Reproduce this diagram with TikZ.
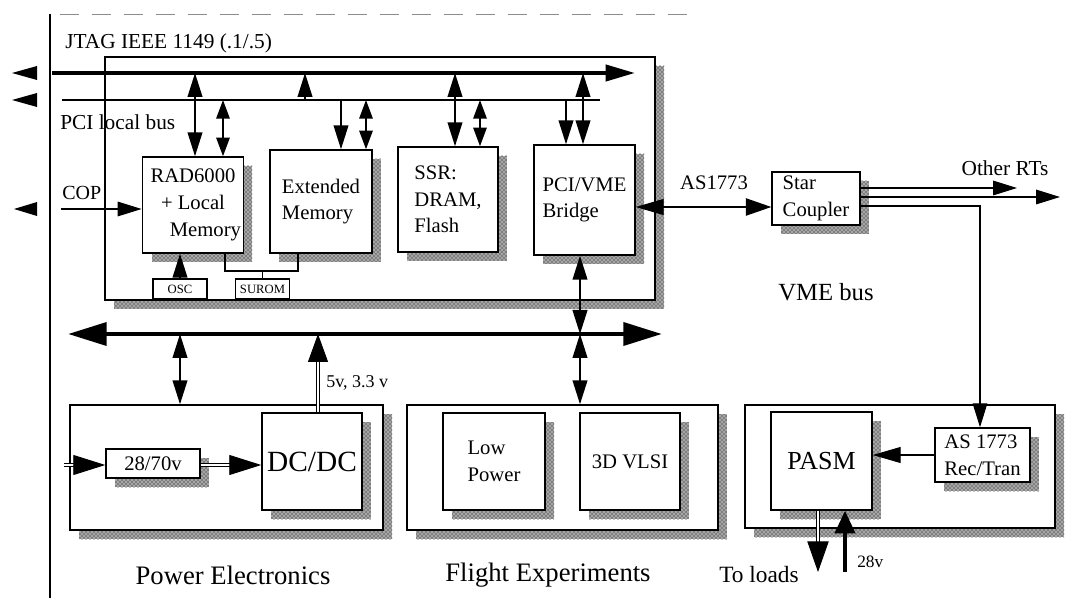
\documentclass[tikz,border=0pt]{standalone}
\usepackage{fontspec}
\setmainfont{Liberation Serif}
\usetikzlibrary{arrows.meta,patterns,calc}
\newcommand\mkbox[7]{%
  \fill[black!35] ({#2+9},{#3+9}) rectangle ({#4+9},{#5+9});
  \fill[shad] ({#2+9},{#3+9}) rectangle ({#4+9},{#5+9});
  \node[box, minimum width={(#4-#2)*0.75pt}, minimum height={(#5-#3)*0.75pt}, #6] (#1) at ({(#2+#4)/2},{(#3+#5)/2}) {#7};%
}
\begin{document}
\begin{tikzpicture}[x=0.75pt,y=-0.75pt,
  box/.style={draw, line width=1.1pt, fill=white, inner sep=2pt, align=center, font=\fontsize{15.5}{20}\selectfont},
  smallbox/.style={draw, line width=0.8pt, fill=white, inner sep=0pt, font=\fontsize{9.5}{10}\selectfont, minimum height=15pt},
  shad/.style={pattern=crosshatch dots, pattern color=black},
  lbl/.style={inner sep=0pt, font=\fontsize{#1}{#1}\selectfont},
  vtip/.style={-{Triangle[length=18pt,width=11pt]}},
  vboth/.style={{Triangle[length=18pt,width=11pt]}-{Triangle[length=18pt,width=11pt]}},
  sboth/.style={{Triangle[length=14pt,width=10pt]}-{Triangle[length=14pt,width=10pt]}},
  varrow/.style={line width=1.5pt},
  thinline/.style={line width=0.8pt},
  dbl/.style={draw=black, double=white, double distance=1.2pt, line width=0.7pt},
]
\useasboundingbox (0,0) rectangle (1067,598);

% frame lines
\draw[line width=2pt] (50,14) -- (50,598);
\draw[black!45, line width=0.5pt, dash pattern=on 14pt off 10pt] (60,14) -- (700,14);

% ---------- CPU board ----------
\mkbox{cpu}{105}{57}{655}{300}{}{}
\node[lbl=16, anchor=west] (jtaglbl) at (65,43) {JTAG IEEE 1149 (.1/.5)};
\node[lbl=16, anchor=west] (pcilbl) at (60,122) {PCI local bus};
\node[lbl=15, anchor=west] (coplbl) at (62,193) {COP};

\mkbox{rad}{143}{157}{243}{253}{}{RAD6000\\+ Local\\\hspace*{1.2em}Memory}
\mkbox{ext}{270}{150}{372}{253}{align=left}{Extended\\Memory}
\mkbox{ssr}{398}{147}{498}{252}{align=left}{SSR:\\DRAM,\\Flash}
\mkbox{bridge}{534}{145}{635}{255}{align=left}{PCI/VME\\Bridge}

\node[smallbox, minimum width=40.5pt] (osc) at (180,289) {OSC};
\node[smallbox, minimum width=41pt] (surom) at (262.5,289) {SUROM};

% buses
\coordinate (jtagL) at (52,73);
\coordinate (jtagR) at (635,73);
\coordinate (pciL) at (62,100);
\coordinate (pciR) at (600,100);
\draw[line width=3pt, -{Triangle[length=22pt,width=12pt]}] (jtagL) -- (jtagR);
\draw[line width=1.8pt] (pciL) -- (pciR);
% arrow tips leaving the sheet on the left
\fill (37,66) -- (12,73) -- (37,80) -- cycle;
\fill (37,93) -- (12,100) -- (37,107) -- cycle;
\fill (37,202) -- (14,209) -- (37,216) -- cycle;
\coordinate (cop) at (61,209);
\draw[thinline, -{Triangle[length=18pt,width=11pt]}] (cop) -- (rad.west |- cop);

% bus taps
\coordinate (j1) at (195,73);  \draw[varrow, vboth] (j1) -- (j1 |- rad.north);
\coordinate (p1) at (223,100); \draw[varrow, sboth] (p1) -- (p1 |- rad.north);
\coordinate (p2) at (305,100); \coordinate (j2) at (305,73); \draw[varrow, vtip] (p2) -- (j2);
\coordinate (p3) at (341,100); \draw[varrow, vtip] (p3) -- (p3 |- ext.north);
\coordinate (p4) at (366,100); \draw[varrow, sboth] (p4) -- (p4 |- ext.north);
\coordinate (j3) at (455,73);  \draw[varrow, vboth] (j3) -- (j3 |- ssr.north);
\coordinate (p5) at (480,100); \draw[varrow, sboth] (p5) -- (p5 |- ssr.north);
\coordinate (p6) at (566,100); \draw[varrow, vtip] (p6) -- (p6 |- bridge.north);
\coordinate (j4) at (583,73);  \draw[varrow, vboth] (j4) -- (j4 |- bridge.north);

% OSC / SUROM
\draw[varrow, vtip] (osc.north) -- (osc.north |- rad.south);
\coordinate (sa) at (225,271); \coordinate (sb) at (298,271);
\draw[thinline] (sa |- rad.south) -- (sa) -- (sb) -- (sb |- ext.south);
\draw[thinline] (surom.north |- sa) -- (surom.north);

% ---------- VME bus ----------
\coordinate (vmeL) at (68,334);
\coordinate (vmeR) at (662,334);
\draw[line width=3.5pt, {Triangle[length=29pt,width=17pt]}-{Triangle[length=29pt,width=17pt]}] (vmeL) -- (vmeR);
\node[lbl=18.5] (vmelbl) at (826,292) {VME bus};

% ---------- Power electronics ----------
\mkbox{pwr}{70}{405}{383}{530}{}{}
\mkbox{conv}{106}{449}{200}{478}{}{28/70v}
\mkbox{dcdc}{262}{413}{362}{510}{font=\fontsize{22}{24}\selectfont}{DC/DC}
\node[lbl=20] (pwrlbl) at (233,575) {Power Electronics};
\coordinate (pin) at (64,465);
\draw[dbl, -{Triangle[length=24pt,width=15pt]}] (pin) -- (conv.west |- pin);
\draw[dbl, -{Triangle[length=24pt,width=15pt]}] (conv.east |- pin) -- (dcdc.west |- pin);
\coordinate (v1) at (180,334); \draw[varrow, vboth] (v1) -- (v1 |- pwr.north);
\coordinate (v2) at (318,334); \draw[dbl, -{Triangle[length=21pt,width=15pt]}] (v2 |- dcdc.north) -- (v2);
\node[lbl=13.5, anchor=west] (vlbl) at (326,383) {5v, 3.3 v};

% ---------- Flight experiments ----------
\mkbox{flight}{407}{405}{718}{530}{}{}
\mkbox{lowp}{443}{413}{545}{510}{align=left}{Low\\Power}
\mkbox{vlsi}{580}{413}{680}{510}{}{3D VLSI}
\node[lbl=20] (fltlbl) at (548,575) {Flight Experiments};
\coordinate (v3) at (580,334);
\draw[varrow, vboth] (v3 |- bridge.south) -- (v3);
\draw[varrow, vboth] (v3) -- (v3 |- flight.north);

% ---------- PASM ----------
\mkbox{rt}{745}{405}{1055}{528}{}{}
\mkbox{pasm}{771}{412}{872}{510}{font=\fontsize{19.5}{22}\selectfont}{PASM}
\mkbox{asrt}{935}{428}{1030}{482}{align=left}{AS 1773\\Rec/Tran}
\draw[thinline, -{Triangle[length=21pt,width=12pt]}] (asrt.west) -- (pasm.east |- asrt.west);
\coordinate (ld) at (818,572);
\coordinate (pw) at (845,572);
\draw[dbl, -{Triangle[length=23pt,width=16pt]}] (pasm.south -| ld) -- (ld);
\draw[line width=3pt, -{Triangle[length=17pt,width=15pt]}] (pw) -- (pasm.south -| pw);
\node[lbl=17.5] (loadlbl) at (759,575) {To loads};
\node[lbl=13, anchor=west] (v28lbl) at (857,562) {28v};

% ---------- Star coupler ----------
\mkbox{star}{772}{172}{860}{225}{align=left}{Star\\Coupler}
\coordinate (asy) at (0,207);
\draw[thinline, {Triangle[length=21pt,width=12pt]}-{Triangle[length=19pt,width=13pt]}] (bridge.east |- asy) -- (star.west |- asy);
\node[lbl=15.5] (aslbl) at (714,183) {AS1773};
\coordinate (o1) at (1017,188);
\coordinate (o2) at (1060,197);
\coordinate (o3) at (980,206);
\draw[thinline, -{Triangle[length=18pt,width=11pt]}] (star.east |- o1) -- (o1);
\draw[thinline, -{Triangle[length=18pt,width=11pt]}] (star.east |- o2) -- (o2);
\draw[thinline, -{Triangle[length=18pt,width=11pt]}] (star.east |- o3) -- (o3) -- (o3 |- asrt.north);
\node[lbl=16] (rtlbl) at (1005,168) {Other RTs};

\end{tikzpicture}
\end{document}
